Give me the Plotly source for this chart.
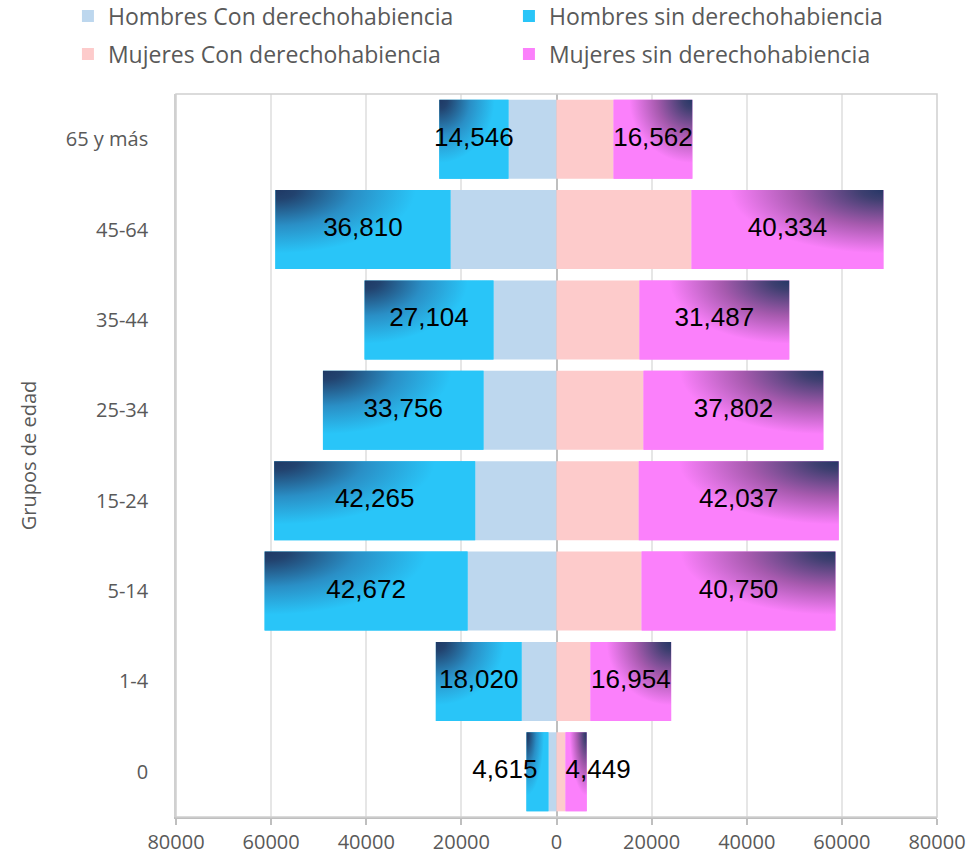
import plotly.graph_objects as go

grupos = ["0", "1-4", "5-14", "15-24", "25-34", "35-44", "45-64", "65 y más"]
hombres_con = [1700, 7350, 18700, 17100, 15350, 13250, 22300, 10100]
hombres_sin = [4615, 18020, 42672, 42265, 33756, 27104, 36810, 14546]
mujeres_con = [1900, 7150, 17900, 17300, 18300, 17450, 28400, 12000]
mujeres_sin = [4449, 16954, 40750, 42037, 37802, 31487, 40334, 16562]
x_ticks = [-80000, -60000, -40000, -20000, 0, 20000, 40000, 60000, 80000]
x_ticktext = [str(abs(v)) for v in x_ticks]

C_H_CON, C_H_SIN = "#BDD7EE", "#29C5F8"
C_M_CON, C_M_SIN = "#FDCBCB", "#FB80FB"
GRAD_H = [[0, "#1F3864"], [0.12, "#22436F"], [0.45, "#2A8FC6"], [0.8, C_H_SIN], [1, C_H_SIN]]
GRAD_M = [[0, "#253766"], [0.12, "#3E3F70"], [0.45, "#A65AAE"], [0.8, C_M_SIN], [1, C_M_SIN]]

BAR_W = 0.875
pos = list(range(len(grupos)))

fig = go.Figure()
fig.add_trace(go.Bar(y=pos, x=[-v for v in hombres_con], orientation="h", width=BAR_W,
                     legend="legend", name="Hombres Con derechohabiencia",
                     marker=dict(color=C_H_CON, line=dict(width=0))))
fig.add_trace(go.Bar(y=pos, x=[-v for v in hombres_sin], orientation="h", width=BAR_W,
                     legend="legend", name="Hombres sin derechohabiencia",
                     marker=dict(color=C_H_SIN, line=dict(width=0))))
fig.add_trace(go.Bar(y=pos, x=mujeres_con, orientation="h", width=BAR_W,
                     legend="legend2", name="Mujeres Con derechohabiencia",
                     marker=dict(color=C_M_CON, line=dict(width=0))))
fig.add_trace(go.Bar(y=pos, x=mujeres_sin, orientation="h", width=BAR_W,
                     legend="legend2", name="Mujeres sin derechohabiencia",
                     marker=dict(color=C_M_SIN, line=dict(width=0))))

# corner-shaded gradient overlay on the "sin derechohabiencia" segments
h = BAR_W / 2
for i in pos:
    for sign, con, sin, grad in ((-1, hombres_con[i], hombres_sin[i], GRAD_H),
                                 (1, mujeres_con[i], mujeres_sin[i], GRAD_M)):
        xi, xo = sign * con, sign * (con + sin)
        yb, yt = i - h, i + h
        xs = [xi, xo, xo, 2 * xo - xi, xo, xo, xo, xi, xi]
        ys = [yb, yb, yt, yt, yt, 2 * yt - yb, yt, yt, yb]
        fig.add_trace(go.Scatter(
            x=xs, y=ys, mode="lines", fill="toself", showlegend=False, hoverinfo="skip",
            line=dict(width=0, color="rgba(0,0,0,0)", simplify=False),
            fillgradient=dict(type="radial", colorscale=grad),
        ))

# value labels
label_font = dict(family="Liberation Sans, Arial", size=26, color="black")
hx, htxt, hpos = [], [], []
for i in pos:
    hx.append(-(hombres_con[i] + hombres_sin[i] / 2))
    hpos.append("middle left" if i == 0 else "middle center")
    htxt.append(f"{hombres_sin[i]:,}")
mx, mtxt, mpos = [], [], []
for i in pos:
    if i == 0:
        mx.append(mujeres_con[i]); mpos.append("middle right")
    else:
        mx.append(mujeres_con[i] + mujeres_sin[i] / 2); mpos.append("middle center")
    mtxt.append(f"{mujeres_sin[i]:,}")
fig.add_trace(go.Scatter(x=hx, y=pos, mode="text", text=htxt, textposition=hpos,
                         textfont=label_font, showlegend=False, hoverinfo="skip", cliponaxis=False))
fig.add_trace(go.Scatter(x=mx, y=pos, mode="text", text=mtxt, textposition=mpos,
                         textfont=label_font, showlegend=False, hoverinfo="skip", cliponaxis=False))

leg_common = dict(
    orientation="h", xref="paper", yref="paper",
    x=-0.142, xanchor="left", yanchor="middle",
    entrywidth=396, entrywidthmode="pixels",
    font=dict(family="Open Sans", size=23, color="#595959"),
    traceorder="normal", itemclick=False, bgcolor="rgba(0,0,0,0)",
)

fig.update_layout(
    width=969, height=859,
    barmode="relative",
    plot_bgcolor="white", paper_bgcolor="white",
    margin=dict(l=176, r=32, t=94, b=42, autoexpand=False),
    font=dict(family="Open Sans", size=20, color="#595959"),
    legend=dict(leg_common, y=1 + 78 / 723),
    legend2=dict(leg_common, y=1 + 40 / 723),
    xaxis=dict(
        range=[-80000, 80000], tickvals=x_ticks, ticktext=x_ticktext,
        showgrid=True, gridcolor="#E6E6E6", gridwidth=1.5,
        zeroline=True, zerolinecolor="#BFBFBF", zerolinewidth=1.5,
        showline=True, linecolor="#BFBFBF", linewidth=1.5,
        ticks="outside", ticklen=6, tickcolor="#BFBFBF", tickwidth=1.5,
        tickfont=dict(size=20, color="#595959"),
    ),
    yaxis=dict(
        range=[-0.5, len(grupos) - 0.5], tickvals=pos, ticktext=grupos,
        title=dict(text="Grupos de edad", font=dict(size=20, color="#595959"), standoff=24),
        showgrid=False, zeroline=False, showline=True, linecolor="#D0D0D0", linewidth=1.5,
        ticklabelstandoff=22, tickfont=dict(size=20, color="#595959"),
    ),
)
fig.add_shape(type="rect", xref="paper", yref="paper", x0=0, x1=1, y0=0, y1=1,
              line=dict(color="#D0D0D0", width=1.5), layer="above")

fig.write_html("out.html", config={"displayModeBar": False},
               post_script="document.body.style.margin='0';document.body.style.padding='0';")
